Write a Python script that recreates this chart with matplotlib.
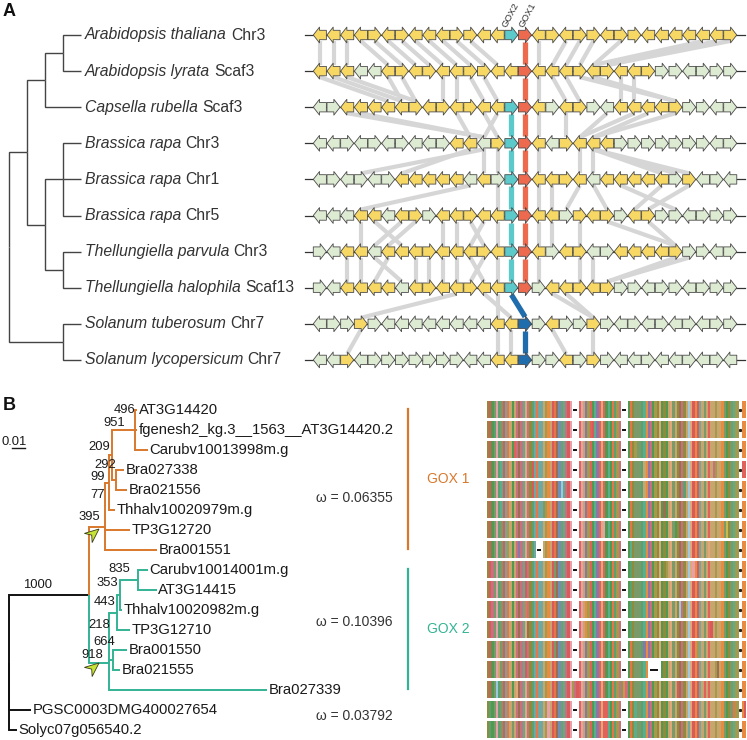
import numpy as np
import matplotlib
matplotlib.use('Agg')
import matplotlib.pyplot as plt
from matplotlib.patches import Polygon
from matplotlib.collections import PatchCollection
from matplotlib.colors import to_rgb

plt.rcParams['font.family'] = ['Liberation Sans', 'DejaVu Sans']

# ---------------- panel A data ----------------
speciesA = ['Arabidopsis thaliana', 'Arabidopsis lyrata', 'Capsella rubella',
            'Brassica rapa', 'Brassica rapa', 'Brassica rapa',
            'Thellungiella parvula', 'Thellungiella halophila',
            'Solanum tuberosum', 'Solanum lycopersicum']
chromA = ['Chr3', 'Scaf3', 'Scaf3', 'Chr3', 'Chr1', 'Chr5', 'Chr3', 'Scaf13', 'Chr7', 'Chr7']

# species tree: internal node -> (parent, depth level)
treeA_nodes = {'root': (None, 0), 'bras': ('root', 1), 'sol': ('root', 3),
               'ac': ('bras', 2), 'arab': ('ac', 3), 'bt': ('bras', 2),
               'brap': ('bt', 3), 'thel': ('bt', 3)}
treeA_leaf_parent = ['arab', 'arab', 'ac', 'brap', 'brap', 'brap', 'thel', 'thel', 'sol', 'sol']

# gene neighbourhoods: y/g = yellow/green (lower case = minus strand), T = GOX2, R = GOX1, B = solanum GOX
genes = [
    'yyyyYyYyyyYYyy' + 'TR' + 'yYyYYyYYyyyyyyY',
    'yyyggyYyYyyYYyy' + 'R' + 'yyyYyYyyYGGgGGG',
    'gGyyyyyYyYyYyy' + 'TR' + 'yGyYGgyyyyYGGgG',
    'ggGgGgGggGyygY' + 'TR' + 'ygYyyyGGGGGGGgG',
    'gGgGgGyyyyygyG' + 'TR' + 'yyYygyyyyyGYgGg',
    'gggyygyYGyyYyy' + 'TR' + 'yyGYyYGyYGGgGGG',
    'GgyygyyyYyyyYy' + 'TR' + 'yGyYgGyyyyYGGgG',
    'GgyyyygyYyyYyy' + 'TR' + 'GyyYyYGGgGGgGGG',
    'gGGYGggggggggyy' + 'B' + 'GyGGYGgGgGgGgGG',
    'ggYgGGGGGGGggyy' + 'B' + 'GGyGYGggGggGgGg',
]

# synteny links between neighbouring rows (gene index above, gene index below)
links = [
    [(0, 0), (1, 1), (2, 2), (3, 5), (4, 6), (5, 7), (6, 8), (7, 9), (8, 10), (9, 11),
     (10, 12), (11, 13), (16, 16), (18, 17), (19, 18), (20, 19), (22, 20), (28, 20), (29, 21), (30, 21)],
    [(0, 5), (1, 6), (2, 7), (5, 6), (6, 7), (9, 9), (10, 10), (11, 12), (12, 13),
     (16, 16), (17, 18), (18, 19), (22, 22), (23, 23), (19, 26), (20, 26)],
    [(2, 12), (3, 12), (10, 11), (12, 13), (13, 12), (16, 16), (18, 18), (21, 19), (23, 19), (24, 20), (26, 20)],
    [(11, 6), (12, 3), (12, 12), (13, 13), (16, 16), (19, 19), (20, 20), (20, 25), (20, 26), (20, 27)],
    [(11, 3), (13, 13), (16, 16), (17, 17), (19, 18), (20, 21), (25, 23), (27, 24), (22, 26)],
    [(3, 3), (4, 6), (6, 4), (7, 5), (9, 9), (10, 10), (11, 12), (12, 11), (13, 13),
     (16, 16), (17, 17), (19, 19), (21, 26), (24, 26)],
    [(2, 2), (3, 3), (4, 6), (5, 4), (7, 7), (8, 8), (9, 9), (10, 10), (11, 12), (12, 11),
     (13, 13), (16, 16), (19, 19), (20, 20), (26, 21), (27, 21)],
    [(10, 3), (12, 14), (13, 13), (17, 20), (18, 20)],
    [(3, 2), (13, 13), (14, 14), (17, 18), (20, 20)],
]

# ---------------- panel B data ----------------
leavesB = ['AT3G14420', 'fgenesh2_kg.3__1563__AT3G14420.2', 'Carubv10013998m.g',
           'Bra027338', 'Bra021556', 'Thhalv10020979m.g', 'TP3G12720', 'Bra001551',
           'Carubv10014001m.g', 'AT3G14415', 'Thhalv10020982m.g', 'TP3G12710',
           'Bra001550', 'Bra021555', 'Bra027339', 'PGSC0003DMG400027654', 'Solyc07g056540.2']
leafB_parent = ['A', 'A', 'A', 'D', 'D', 'E', 'O', 'O',
                'G', 'G', 'H', 'I', 'J', 'J', 'K', 'root', 'root']
leafB_dist = [0.0985, 0.0985, 0.1069, 0.0885, 0.0908, 0.0815, 0.0931, 0.1138,
              0.1069, 0.1138, 0.0869, 0.0931, 0.0908, 0.0854, 0.1985, 0.0169, 0.0062]
# internal nodes: name -> (parent, distance from root)
treeB_nodes = {'root': (None, 0.0), 'gox': ('root', 0.0615),
               'O': ('gox', 0.0738), 'E': ('O', 0.0769), 'C': ('E', 0.0792),
               'A': ('C', 0.0969), 'D': ('C', 0.0823),
               'K': ('gox', 0.0769), 'I': ('K', 0.0831), 'H': ('I', 0.0854),
               'G': ('H', 0.0992), 'J': ('K', 0.0800)}
bootstrap = ['496', '951', '209', '292', '99', '77', '395', '1000',
             '835', '353', '443', '218', '664', '918']
omega = ['ω = 0.06355', 'ω = 0.10396', 'ω = 0.03792']
groups = ['GOX 1', 'GOX 2']

# alignment: consensus plus per-row substitutions
consensus = ('MEITNVTEYDAIAKQKLPKMVYDYYASGAEDQWTLKEN' + '---' +
             'RNAFSRILFRPRILIDVSK' + '---' +
             'IDMTTTVLGFKISMPIMIAPTAMQKMAHPEGEYATARAASAAGTIMTLSS' + '.' + 'GG')
aln_edits = [
    '', '3V 47E', '12R 66S 95T', '6L 20E 70A 101K 114R 115R', '6L 20E 33H 70A 88V',
    '6L 25T 45D 79Q', '9S 52N 84I 107C', '9S 14F 22- 23- 24- 64L 99P',
    '2K 17E 30T 64V 80S 92N', '2K 17E 30T 64V 81A', '2K 17D 44G 64V 86H',
    '2K 18Q 44G 64V 100E', '5A 17E 30T 70F 94S', '5A 17E 72- 73- 74- 75- 76- 77- 103Q',
    '4H 13P 38S 39K 40E 60T 61G 62K 85E 97R', '1V 11T 27N 53R 66L 110D 115E',
    '1V 11T 27N 53R 66L 90Y',
]
aa_colors = {'A': '#c8a46e', 'R': '#e0625a', 'N': '#e6a0a8', 'D': '#e8744a', 'C': '#c8b850',
             'Q': '#9c6e50', 'E': '#d95a5a', 'G': '#e88a40', 'H': '#9cc8e0', 'I': '#4f9a50',
             'L': '#5aae8c', 'K': '#c87080', 'M': '#8f8a3c', 'F': '#8878a8', 'P': '#e0a878',
             'S': '#a49a4c', 'T': '#7a9a6a', 'W': '#6f8fb8', 'Y': '#6fa8a0', 'V': '#5aa070'}

# ---------------- figure ----------------
fig = plt.figure(figsize=(7.47, 7.40), dpi=100)
ax = fig.add_axes([0, 0, 1, 1])
ax.set_xlim(0, 747)
ax.set_ylim(740, 0)
ax.axis('off')
renderer = fig.canvas.get_renderer()
inv = ax.transData.inverted()

txt_grey = '#333333'
orange = '#d9782d'
green = '#33b394'
gene_col = {'y': '#f7d865', 'g': '#deebd3', 't': '#5ccaca', 'r': '#ee6a4f', 'b': '#1f6dad'}


def draw_tree(nodes, leaf_parent, leaf_x, leaf_y, xmap, colour_of, lw, y_fixed=None):
    xpos, ypos, kids = {}, {}, {}
    for i, p in enumerate(leaf_parent):
        xpos[i] = leaf_x[i]
        ypos[i] = leaf_y[i]
        kids.setdefault(p, []).append(i)
    for n, (p, d) in nodes.items():
        xpos[n] = d
        if p is not None:
            kids.setdefault(p, []).append(n)
    if y_fixed:
        ypos.update(y_fixed)

    def gety(n):
        if n not in ypos:
            ys = [gety(c) for c in kids[n]]
            ypos[n] = (min(ys) + max(ys)) / 2
        return ypos[n]
    for n in nodes:
        gety(n)
    for p, cs in kids.items():
        for c in cs:
            ax.plot([xmap(xpos[p]), xmap(xpos[p]), xmap(xpos[c])],
                    [ypos[p], ypos[c], ypos[c]], color=colour_of(c), lw=lw,
                    solid_capstyle='butt', solid_joinstyle='miter', zorder=2)
    return xpos, ypos


# ----- panel A -----
ax.text(3, 11, 'A', fontsize=13, fontweight='bold', va='center', ha='left', color='#111')
rowA_y = [35 + 36.1 * i for i in range(len(speciesA))]
draw_tree(treeA_nodes, treeA_leaf_parent, [4] * len(speciesA), rowA_y,
          lambda d: 9 + 18 * d, lambda c: '#444444', 1.0)
for i, (sp, ch) in enumerate(zip(speciesA, chromA)):
    t = ax.text(85, rowA_y[i], sp, style='italic', fontsize=11.3, va='center', color=txt_grey)
    bb = t.get_window_extent(renderer=renderer)
    xe = inv.transform((bb.x1, bb.y0))[0]
    ax.text(xe + 4, rowA_y[i], ch, fontsize=11.3, va='center', color=txt_grey)

gx0, gw = 313.0, 13.68
hb, hh, hl = 4.7, 7.9, 6.2


def gene_xc(k):
    return gx0 + gw * (k + 0.5)


# grey synteny links
for r, pairs in enumerate(links):
    for a, b in pairs:
        ax.plot([gene_xc(a), gene_xc(b)], [rowA_y[r] + 6, rowA_y[r + 1] - 6],
                color='#d6d6d6', lw=3.0, solid_capstyle='butt', zorder=1)

# coloured GOX links
for r in range(len(genes) - 1):
    up, lo = genes[r], genes[r + 1]
    for code, col in (('T', gene_col['t']), ('R', gene_col['r'])):
        if code in up and code in lo:
            k1, k2 = up.index(code), lo.index(code)
            ax.plot([gene_xc(k1), gene_xc(k2)], [rowA_y[r] + 7, rowA_y[r + 1] - 7],
                    color=col, lw=3.8, solid_capstyle='butt', zorder=2.5)
    if 'B' in lo:
        k1 = up.index('B') if 'B' in up else up.index('T')
        k2 = lo.index('B')
        ax.plot([gene_xc(k1), gene_xc(k2)], [rowA_y[r] + 7, rowA_y[r + 1] - 7],
                color=gene_col['b'], lw=3.8, solid_capstyle='butt', zorder=2.5)

patches, faces = [], []
for r, row in enumerate(genes):
    y = rowA_y[r]
    ax.plot([305, 745], [y, y], color='#333', lw=0.9, zorder=2)
    for k, ch in enumerate(row):
        x0 = gx0 + gw * k + 0.3
        x1 = gx0 + gw * (k + 1) - 0.3
        if ch.isupper():
            pts = [(x0, y - hb), (x1 - hl, y - hb), (x1 - hl, y - hh), (x1, y),
                   (x1 - hl, y + hh), (x1 - hl, y + hb), (x0, y + hb)]
        else:
            pts = [(x1, y - hb), (x0 + hl, y - hb), (x0 + hl, y - hh), (x0, y),
                   (x0 + hl, y + hh), (x0 + hl, y + hb), (x1, y + hb)]
        patches.append(Polygon(pts, closed=True))
        faces.append(gene_col[ch.lower()])
ax.add_collection(PatchCollection(patches, facecolors=faces, edgecolors='#4a4a4a',
                                  linewidths=0.6, zorder=3))

ax.text(gene_xc(genes[0].index('T')) - 5, 28.5, 'GOX2', rotation=62, fontsize=6.8,
        ha='left', va='baseline', rotation_mode='anchor', color=txt_grey)
ax.text(gene_xc(genes[0].index('R')) - 2, 28.5, 'GOX1', rotation=62, fontsize=6.8,
        ha='left', va='baseline', rotation_mode='anchor', color=txt_grey)

# ----- panel B -----
ax.text(3, 405, 'B', fontsize=13, fontweight='bold', va='center', ha='left', color='#111')
rowB_y = [410 + 20 * i for i in range(len(leavesB))]
bx = lambda d: 9 + 1300 * d
# clade roots sit where the published tree draws them
cladeB_y = {'O': 527, 'K': 663}


def clade_colour(n):
    chain = n
    while chain is not None:
        if chain == 'O':
            return orange
        if chain == 'K':
            return green
        chain = treeB_nodes[chain][0] if chain in treeB_nodes else leafB_parent[chain]
    return '#111111'


draw_tree(treeB_nodes, leafB_parent, leafB_dist, rowB_y, bx, clade_colour, 1.4, cladeB_y)
for i, name in enumerate(leavesB):
    ax.text(bx(leafB_dist[i]) + 1.5, rowB_y[i], name, fontsize=10.7, va='center',
            ha='left', color='#1a1a1a')

boot_pos = [(135, 410), (125, 423), (110, 447), (116, 465), (105, 477), (105, 495),
            (100, 517), (52, 585), (130, 569), (118, 583), (115, 602), (110, 625),
            (115, 642), (103, 655)]
for lab, (x, y) in zip(bootstrap, boot_pos):
    ax.text(x, y, lab, fontsize=9.4, ha='right', va='center', color='#1a1a1a')

# scale bar
ax.text(2, 442, '0.01', fontsize=9.4, ha='left', va='center', color='#1a1a1a')
ax.plot([bx(0.0023), bx(0.0123)], [448, 448], color='#1a1a1a', lw=1.0)

# pointers at duplication nodes
for tip in ((99, 529), (99, 663)):
    ang = np.deg2rad(-40)
    local = np.array([(0, 0), (-14, 6), (-9.5, 0), (-14, -6)])
    rot = np.array([[np.cos(ang), -np.sin(ang)], [np.sin(ang), np.cos(ang)]])
    pts = local @ rot.T + np.array(tip)
    ax.add_patch(Polygon(pts, closed=True, fc='#c5e336', ec='#3a3a1a', lw=0.6, zorder=4))

for lab, y in zip(omega, (498, 622, 716)):
    ax.text(393, y, lab, fontsize=10, ha='right', va='center', color=txt_grey)

for lab, col, (ya, yb) in zip(groups, (orange, green), ((409, 549), (569, 689))):
    ax.plot([408, 408], [ya, yb], color=col, lw=1.6)
    ax.text(427, (ya + yb) / 2, lab, fontsize=10, color=col, ha='left', va='center')

# alignment
ax0, ax1 = 487.0, 746.0
ncol = len(consensus)
cw = (ax1 - ax0) / ncol
for r, ed in enumerate(aln_edits):
    seq = list(consensus)
    for tok in ed.split():
        seq[int(tok[:-1])] = tok[-1]
    y = rowB_y[r]
    rgb = np.ones((1, ncol, 3))
    for c, s in enumerate(seq):
        if s in aa_colors:
            rgb[0, c] = to_rgb(aa_colors[s])
    ax.imshow(rgb, extent=(ax0, ax1, y + 8.5, y - 8.5), aspect='auto',
              interpolation='nearest', zorder=1)
    # gap dashes and end dot
    c = 0
    while c < ncol:
        if seq[c] == '-':
            c2 = c
            while c2 < ncol and seq[c2] == '-':
                c2 += 1
            xa, xb = ax0 + c * cw, ax0 + c2 * cw
            L = max((xb - xa) * 0.6, 2.0)
            xm = (xa + xb) / 2
            ax.plot([xm - L / 2, xm + L / 2], [y, y], color='#111', lw=1.4,
                    solid_capstyle='butt', zorder=2)
            c = c2
        else:
            if seq[c] == '.':
                ax.plot([ax0 + (c + 0.5) * cw], [y], 's', color='#222', ms=1.2, zorder=2)
            c += 1

ax.set_xlim(0, 747)
ax.set_ylim(740, 0)
fig.savefig('out.png', dpi=100)
